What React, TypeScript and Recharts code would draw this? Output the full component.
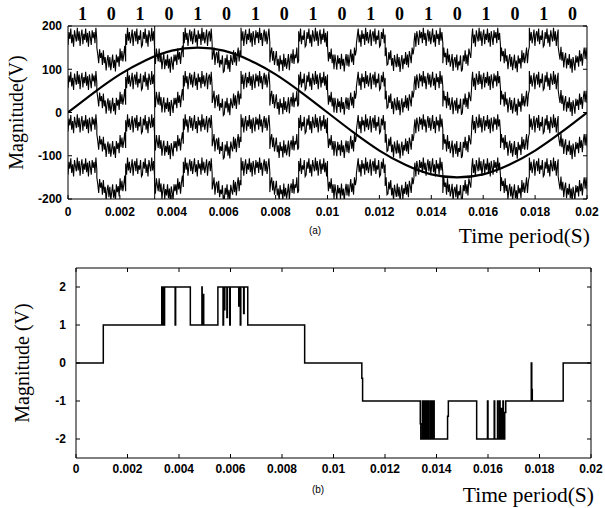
import { LineChart, Line, XAxis, YAxis } from 'recharts';

// time axis (seconds)
const X_TICKS = [0, 0.002, 0.004, 0.006, 0.008, 0.01, 0.012, 0.014, 0.016, 0.018, 0.02];
const TOP_Y_TICKS = [-200, -100, 0, 100, 200];
const BOTTOM_Y_TICKS = [-2, -1, 0, 1, 2];

// panel (a): bit stream printed above the plot
const BITS = [1, 0, 1, 0, 1, 0, 1, 0, 1, 0, 1, 0, 1, 0, 1, 0, 1, 0];
// the noisy carrier repeats in four 100 V bands
const BAND_BASES = [100, 0, -100, -200];
const LEVEL_ONE = 74;
const LEVEL_ZERO = 24;
// jitter (V)
const NOISE = [
  -18, 12, -4, 20, -14, 6, -22, 16, 2, -10, 22, -8, 14, -20, 4, 18,
  -16, 8, -6, 20, -12, 10, -22, 14, 0, -18, 16, -2, 12, -14, 22, -6,
  10, -20, 4, 18, -10, 14, -16, 2, 20, -12, 6, -22, 16, -4, 8, -18,
  22, -8, 12, -14, 0, 18, -20, 6, 14, -10, 20, -16, 4, -6, 16, -22,
];
// slight dip of the "0" blocks
const BOWL = [
  12, 10, 8, 6, 4, 2, 0, -2, -4, -6, -7, -8, -9, -10, -10, -10,
  -10, -10, -9, -8, -7, -6, -4, -2, 0, 2, 4, 6, 8, 10, 12, 14,
];
const FULL_JUMPS = [0.00334];

// reference sine
const SINE_T = [0, 0.001, 0.002, 0.003, 0.004, 0.005, 0.006, 0.007, 0.008, 0.009, 0.01,
  0.011, 0.012, 0.013, 0.014, 0.015, 0.016, 0.017, 0.018, 0.019, 0.02];
const SINE_V = [0, 46, 88, 121, 143, 150, 143, 121, 88, 46, 0,
  -46, -88, -121, -143, -150, -143, -121, -88, -46, 0];

// panel (b): multilevel output, value from each time onwards
const STEP_T = [
  0, 0.00106, 0.00333, 0.00335, 0.00336, 0.00338, 0.0034, 0.00342, 0.00344, 0.00385, 0.00387,
  0.00444, 0.00489, 0.0049, 0.00494, 0.00496, 0.00551, 0.00571, 0.00573, 0.00576, 0.00578,
  0.00586, 0.00588, 0.00597, 0.00599, 0.00632, 0.00634, 0.00638, 0.0064, 0.00651, 0.00653,
  0.00667, 0.00888, 0.0111, 0.01113, 0.01337, 0.01339, 0.01345, 0.01347, 0.01352, 0.01354,
  0.01358, 0.01361, 0.01366, 0.01368, 0.01374, 0.01376, 0.01381, 0.01384, 0.01389, 0.01391,
  0.01443, 0.01446, 0.01556, 0.01598, 0.016, 0.01624, 0.01626, 0.01637, 0.01639, 0.01645,
  0.01647, 0.01652, 0.01654, 0.01658, 0.0166, 0.01665, 0.01669, 0.01768, 0.0177, 0.01772,
  0.01892, 0.02,
];
const STEP_V = [
  0, 1, 2, 1, 2, 1, 2, 1, 2, 1, 2,
  1, 2, 1, 1.8, 1, 2, 1, 2, 1.4, 2,
  1.2, 2, 1, 2, 1.5, 2, 1, 2, 1.3, 2,
  1, 0, -0.4, -1, -1.6, -2, -1, -2, -1, -2,
  -1, -2, -1, -2, -1, -2, -1, -2, -1, -2,
  -1.4, -1, -2, -1, -2, -1, -2, -1, -2, -1,
  -2, -1.2, -2, -1, -2, -1.3, -1, 0, -0.7, -1,
  0, 0,
];

const BIT_T = 0.02 / BITS.length;
const PTS = BOWL.length;
const BIT_CENTERS = BITS.map((_, i) => (i + 0.5) * BIT_T);

const bandData = BAND_BASES.map((base) => {
  const pts: { t: number; v: number }[] = [];
  BITS.forEach((b, i) => {
    for (let k = 0; k < PTS; k++) {
      const n = NOISE[(i * 23 + k) % NOISE.length];
      pts.push({
        t: i * BIT_T + (k / (PTS - 1)) * BIT_T,
        v: base + (b ? LEVEL_ONE : LEVEL_ZERO) + n + (b ? 0 : BOWL[k]),
      });
    }
  });
  return pts;
});
const jumpData = FULL_JUMPS.map((t) => [{ t, v: -200 }, { t, v: 200 }]);
const sineData = SINE_T.map((t, i) => ({ t, v: SINE_V[i] }));
const stepData = STEP_T.map((t, i) => ({ t, v: STEP_V[i] }));

const tickFont = { fontFamily: 'Liberation Sans, Arial, sans-serif', fontWeight: 700, fontSize: 12, fill: '#000' };
const serif = 'Liberation Serif, Times New Roman, serif';

const YTitle = ({ viewBox, text, dx }: any) => {
  const cx = viewBox.x + dx;
  const cy = viewBox.y + viewBox.height / 2;
  return (
    <text x={cx} y={cy} transform={`rotate(-90 ${cx} ${cy})`} textAnchor="middle" dominantBaseline="central"
      fontFamily={serif} fontSize={20} fill="#000">
      {text}
    </text>
  );
};

const XTitle = ({ viewBox, tag, tagX }: any) => (
  <g>
    <text x={viewBox.x + tagX} y={viewBox.y + 35} textAnchor="middle"
      fontFamily="Liberation Sans, Arial, sans-serif" fontSize={10} fill="#000">
      {tag}
    </text>
    <text x={viewBox.x + viewBox.width + 3} y={viewBox.y + 44} textAnchor="end"
      fontFamily={serif} fontSize={21.5} fill="#000">
      Time period(S)
    </text>
  </g>
);

export default function App() {
  return (
    <div style={{ position: 'absolute', left: 0, top: 0, width: 605, height: 508, background: '#fff' }}>
      <LineChart width={605} height={250} margin={{ top: 25, right: 17, bottom: 11, left: 0 }}>
        <XAxis type="number" dataKey="t" domain={[0, 0.02]} ticks={X_TICKS} interval={0} allowDataOverflow
          height={40} tick={tickFont} tickSize={-4} tickMargin={12} stroke="#000"
          label={<XTitle tag="(a)" tagX={247} />} />
        <XAxis xAxisId="top" orientation="top" type="number" dataKey="t" domain={[0, 0.02]} ticks={BIT_CENTERS}
          interval={0} allowDataOverflow height={1} tickSize={0} tickMargin={6} stroke="#000"
          tickFormatter={(_v: number, i: number) => String(BITS[i])}
          tick={{ fontFamily: serif, fontWeight: 700, fontSize: 18, fill: '#000' }} />
        <YAxis type="number" domain={[-200, 200]} ticks={TOP_Y_TICKS} interval={0} allowDataOverflow width={68}
          tick={tickFont} tickSize={-4} tickMargin={10} stroke="#000"
          label={<YTitle text="Magnitude(V)" dx={16} />} />
        <YAxis yAxisId="r" orientation="right" type="number" domain={[-200, 200]} ticks={TOP_Y_TICKS} width={1}
          allowDataOverflow tickSize={-4} tickFormatter={() => ''} stroke="#000" />
        {jumpData.map((d, i) => (
          <Line key={`j${i}`} xAxisId="top" yAxisId="r" data={d} dataKey="v" stroke="#000" strokeWidth={1}
            dot={false} isAnimationActive={false} />
        ))}
        {bandData.map((d, i) => (
          <Line key={i} data={d} dataKey="v" type="linear" stroke="#000" strokeWidth={1.1} dot={false}
            isAnimationActive={false} />
        ))}
        <Line data={sineData} dataKey="v" type="natural" stroke="#000" strokeWidth={2.2} dot={false}
          isAnimationActive={false} />
      </LineChart>
      <div style={{ position: 'absolute', left: 0, top: 250 }}>
        <LineChart width={605} height={258} margin={{ top: 17, right: 13, bottom: 10, left: 0 }}>
          <XAxis type="number" dataKey="t" domain={[0, 0.02]} ticks={X_TICKS} interval={0} allowDataOverflow
            height={40} tick={tickFont} tickSize={-4} tickMargin={10} stroke="#000"
            label={<XTitle tag="(b)" tagX={242} />} />
          <XAxis xAxisId="top" orientation="top" type="number" dataKey="t" domain={[0, 0.02]} ticks={X_TICKS}
            interval={0} allowDataOverflow height={1} tickSize={-4} tickFormatter={() => ''} stroke="#000" />
          <YAxis type="number" domain={[-2.5, 2.5]} ticks={BOTTOM_Y_TICKS} interval={0} allowDataOverflow width={76}
            tick={tickFont} tickSize={-4} tickMargin={14} stroke="#000"
            label={<YTitle text="Magnitude (V)" dx={22} />} />
          <YAxis yAxisId="r" orientation="right" type="number" domain={[-2.5, 2.5]} ticks={BOTTOM_Y_TICKS} width={1}
            allowDataOverflow tickSize={-4} tickFormatter={() => ''} stroke="#000" />
          <Line data={stepData} dataKey="v" type="stepAfter" stroke="#000" strokeWidth={1.5} dot={false}
            isAnimationActive={false} />
          <Line xAxisId="top" yAxisId="r" data={stepData} dataKey="v" type="stepAfter" stroke="none" dot={false}
            activeDot={false} isAnimationActive={false} />
        </LineChart>
      </div>
    </div>
  );
}
